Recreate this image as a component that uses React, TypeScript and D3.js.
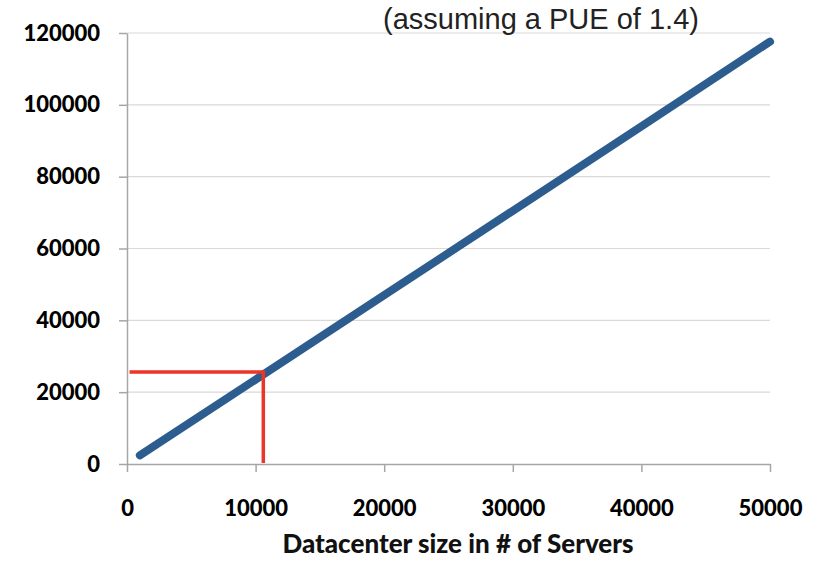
import * as d3 from 'd3'
import { useEffect, useRef } from 'react'

const width = 819
const height = 561
const marginTop = 33
const marginRight = 49
const marginBottom = 97
const marginLeft = 127

// servers vs. power (kW)
const servers = [1000, 10000, 20000, 30000, 40000, 50000]
const power = [2400, 23500, 47000, 70500, 94000, 117600]

// red marker: ~10600 servers -> ~25600
const markerServers = 10600
const markerPower = 25600
const markerStart = 200

const xTicks = [0, 10000, 20000, 30000, 40000, 50000]
const yTicks = [0, 20000, 40000, 60000, 80000, 100000, 120000]

const note = '(assuming a PUE of 1.4)'
const xTitle = 'Datacenter size in # of Servers'

export default function App() {
  const ref = useRef<SVGSVGElement>(null)

  useEffect(() => {
    const svg = d3.select(ref.current)
    svg.selectAll('*').remove()

    const x = d3.scaleLinear([0, 50000], [marginLeft, width - marginRight])
    const y = d3.scaleLinear([0, 120000], [height - marginBottom, marginTop])

    const labelFont = 'Lato, "Open Sans", sans-serif'

    // grid lines
    svg
      .append('g')
      .selectAll('line')
      .data(yTicks.filter(d => d > 0))
      .join('line')
      .attr('x1', x(0))
      .attr('x2', x(50000))
      .attr('y1', d => y(d))
      .attr('y2', d => y(d))
      .attr('stroke', '#d9d9d9')
      .attr('stroke-width', 1.2)

    // y axis
    svg
      .append('g')
      .attr('transform', `translate(${marginLeft},0)`)
      .call(d3.axisLeft(y).tickValues(yTicks).tickSize(8).tickSizeOuter(0).tickPadding(19).tickFormat(d3.format('d')))
      .call(g => g.select('.domain').attr('stroke', '#a6a6a6').attr('stroke-width', 1.5))
      .call(g => g.selectAll('.tick line').attr('stroke', '#a6a6a6').attr('stroke-width', 1.5))
      .call(g =>
        g
          .selectAll('.tick text')
          .attr('fill', '#000')
          .attr('font-family', labelFont)
          .attr('font-weight', 900)
          .attr('font-size', 22)
      )

    // x axis
    svg
      .append('g')
      .attr('transform', `translate(0,${height - marginBottom})`)
      .call(d3.axisBottom(x).tickValues(xTicks).tickSize(8).tickSizeOuter(0).tickPadding(28).tickFormat(d3.format('d')))
      .call(g => g.select('.domain').attr('stroke', '#a6a6a6').attr('stroke-width', 1.5))
      .call(g => g.selectAll('.tick line').attr('stroke', '#a6a6a6').attr('stroke-width', 1.5))
      .call(g =>
        g
          .selectAll('.tick text')
          .attr('fill', '#000')
          .attr('font-family', labelFont)
          .attr('font-weight', 900)
          .attr('font-size', 22)
      )

    // the series line
    const line = d3
      .line<number>()
      .x((_, i) => x(servers[i]))
      .y(d => y(d))

    svg
      .append('path')
      .attr('fill', 'none')
      .attr('stroke', '#2c5d8e')
      .attr('stroke-width', 8)
      .attr('stroke-linecap', 'round')
      .attr('d', line(power))

    // red marker lines
    svg
      .append('path')
      .attr('fill', 'none')
      .attr('stroke', '#ec3427')
      .attr('stroke-width', 3.5)
      .attr(
        'd',
        `M${x(markerStart)},${y(markerPower)}H${x(markerServers)}V${y(0) - 1}`
      )

    // x title
    svg
      .append('text')
      .attr('x', 458)
      .attr('y', 553)
      .attr('text-anchor', 'middle')
      .attr('font-family', labelFont)
      .attr('font-weight', 900)
      .attr('font-size', 26)
      .attr('fill', '#111')
      .text(xTitle)

    // note at the top
    svg
      .append('text')
      .attr('x', 383)
      .attr('y', 29)
      .attr('font-family', '"Liberation Sans", Arial, sans-serif')
      .attr('font-size', 29)
      .attr('fill', '#222')
      .text(note)
  }, [])

  return (
    <svg
      ref={ref}
      width={width}
      height={height}
      viewBox={`0 0 ${width} ${height}`}
      style={{ position: 'absolute', left: 0, top: 0, background: '#fff' }}
    ></svg>
  )
}
